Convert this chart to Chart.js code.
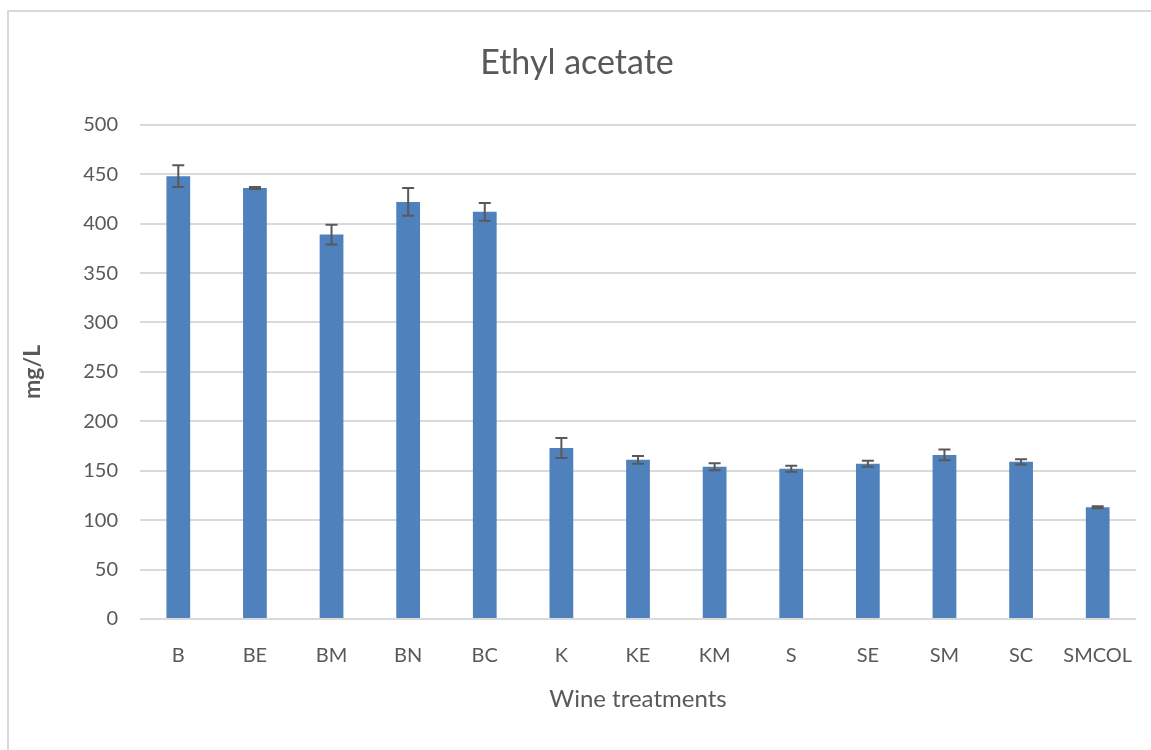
<!DOCTYPE html>
<html>
<head>
<meta charset="utf-8">
<script src="https://cdn.jsdelivr.net/npm/chart.js@4/dist/chart.umd.min.js"></script>
<style>
  html, body { margin: 0; padding: 0; background: #fff; }
  #wrap { width: 1151px; height: 750px; position: relative; }
</style>
</head>
<body>
<div id="wrap"><canvas id="myChart"></canvas></div>
<script>
var treatments = ['B', 'BE', 'BM', 'BN', 'BC', 'K', 'KE', 'KM', 'S', 'SE', 'SM', 'SC', 'SMCOL'];
var ethylAcetate = [448, 436, 389, 422, 412, 173, 161, 154, 152, 157, 166, 159, 113];
var errors = [11, 1, 10, 14, 9, 10, 4, 3.5, 3, 3, 5.5, 2.7, 1];
var yTicks = [0, 50, 100, 150, 200, 250, 300, 350, 400, 450, 500];

const textColor = '#595959';
const gridColor = '#d9d9d9';

// light frame round the chart (right and bottom run off the picture)
const frame = {
  id: 'frame',
  beforeDraw: (chart) => {
    const ctx = chart.ctx;
    ctx.save();
    ctx.fillStyle = '#fff';
    ctx.fillRect(0, 0, chart.width, chart.height);
    ctx.strokeStyle = gridColor;
    ctx.lineWidth = 2;
    ctx.strokeRect(8, 11, chart.width + 20, chart.height + 20);
    ctx.restore();
  }
};

// error bars drawn on top of each bar
const errorBars = {
  id: 'errorBars',
  afterDatasetsDraw: (chart) => {
    const ctx = chart.ctx;
    const y = chart.scales.y;
    const meta = chart.getDatasetMeta(0);
    ctx.save();
    ctx.strokeStyle = '#595959';
    ctx.lineWidth = 2;
    meta.data.forEach((bar, i) => {
      const v = ethylAcetate[i];
      const e = errors[i];
      const top = y.getPixelForValue(v + e);
      const bot = y.getPixelForValue(v - e);
      ctx.beginPath();
      ctx.moveTo(bar.x, top);
      ctx.lineTo(bar.x, bot);
      ctx.moveTo(bar.x - 6, top);
      ctx.lineTo(bar.x + 6, top);
      ctx.moveTo(bar.x - 6, bot);
      ctx.lineTo(bar.x + 6, bot);
      ctx.stroke();
    });
    ctx.restore();
  }
};

const data = {
  labels: treatments,
  datasets: [{
    label: 'Ethyl acetate',
    data: ethylAcetate,
    backgroundColor: '#4f81bd',
    categoryPercentage: 1,
    barPercentage: 0.31
  }]
};

const config = {
  type: 'bar',
  data: data,
  options: {
    responsive: true,
    maintainAspectRatio: false,
    animation: false,
    layout: { padding: { left: 18, right: 15, top: 0, bottom: 30 } },
    plugins: {
      legend: { display: false },
      tooltip: { enabled: false },
      title: {
        display: true,
        text: 'Ethyl acetate',
        color: textColor,
        font: { family: 'Lato', size: 34, weight: 'normal', lineHeight: 1.2 },
        padding: { top: 43, bottom: 41 }
      }
    },
    scales: {
      x: {
        grid: { display: false, drawTicks: false },
        border: { display: false },
        ticks: { color: textColor, font: { family: 'Lato', size: 20 }, padding: 25, maxRotation: 0 },
        title: {
          display: true,
          text: 'Wine treatments',
          color: textColor,
          font: { family: 'Lato', size: 24 },
          padding: { top: 0, bottom: 6 }
        },
        afterFit: (s) => { s.height = 101; s.paddingLeft = 0; s.paddingRight = 0; }
      },
      y: {
        min: 0,
        max: 500,
        afterBuildTicks: (s) => { s.ticks = yTicks.map(v => ({ value: v })); },
        grid: { color: gridColor, lineWidth: 2, drawTicks: false },
        border: { display: false },
        ticks: { color: textColor, font: { family: 'Lato', size: 20 }, padding: 22 },
        title: {
          display: true,
          text: 'mg/L',
          color: textColor,
          font: { family: 'Lato', size: 23, weight: 'bold' },
          padding: { top: 1, bottom: 0 }
        },
        afterFit: (s) => { s.width = 122; s.paddingTop = 0; s.paddingBottom = 0; }
      }
    }
  },
  plugins: [frame, errorBars]
};

const myChart = new Chart(document.getElementById('myChart'), config);
</script>
</body>
</html>
